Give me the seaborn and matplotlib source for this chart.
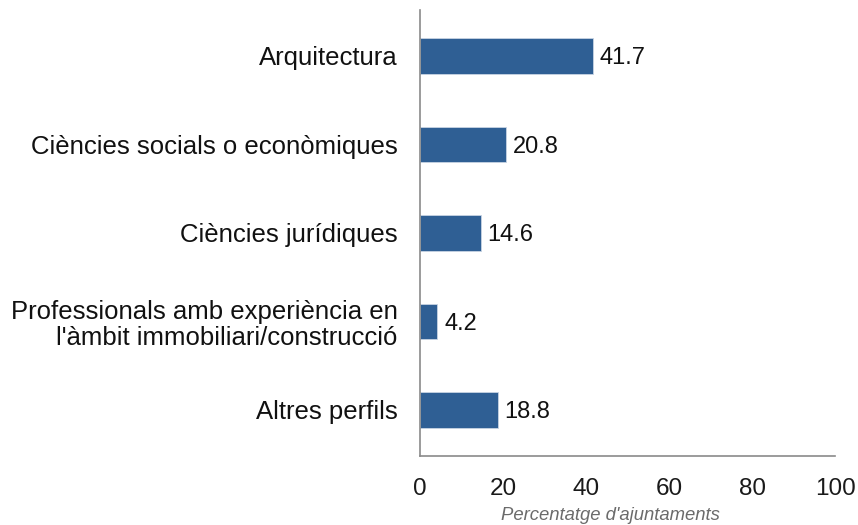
import matplotlib
matplotlib.use("Agg")
import matplotlib.pyplot as plt
import seaborn as sns
import pandas as pd

categories = [
    "Arquitectura",
    "Ciències socials o econòmiques",
    "Ciències jurídiques",
    "Professionals amb experiència en\nl'àmbit immobiliari/construcció",
    "Altres perfils",
]
values = [41.7, 20.8, 14.6, 4.2, 18.8]
x_ticks = [0, 20, 40, 60, 80, 100]

df = pd.DataFrame({"perfil": categories, "pct": values})

sns.set_theme(style="white")
plt.rcParams["font.family"] = ["Liberation Sans", "DejaVu Sans"]

fig = plt.figure(figsize=(8.58, 5.25), dpi=100)
ax = fig.add_axes([0.4895, 0.1314, 0.4837, 0.8496])

sns.barplot(data=df, x="pct", y="perfil", color="#2F5F94", width=0.4,
            saturation=1, ax=ax, edgecolor="#c8d4e3", linewidth=0.6)

for i, v in enumerate(values):
    ax.text(v + 1.6, i, f"{v:.1f}", va="center_baseline", ha="left", fontsize=17, color="#111111")

ax.set_xlim(0, 100)
ax.set_ylim(4.52, -0.52)
ax.set_xticks(x_ticks)
ax.set_xticklabels([str(t) for t in x_ticks], fontsize=17.5, color="#1a1a1a")
ax.tick_params(axis="y", labelsize=18.5, labelcolor="#111111", length=0, pad=16)
for lbl in ax.get_yticklabels():
    lbl.set_linespacing(1.1)
ax.tick_params(axis="x", length=6, width=1, color="#8a8a8a", direction="out", pad=10)
ax.set_ylabel("")
ax.set_xlabel("Percentatge d'ajuntaments", fontsize=13.3, style="italic", color="#6b6b6b", labelpad=6)
ax.xaxis.set_label_coords(0.458, -0.115)

for s in ["top", "right"]:
    ax.spines[s].set_visible(False)
for s in ["left", "bottom"]:
    ax.spines[s].set_color("#8a8a8a")
    ax.spines[s].set_linewidth(1.2)

fig.savefig("out.png", dpi=100)
